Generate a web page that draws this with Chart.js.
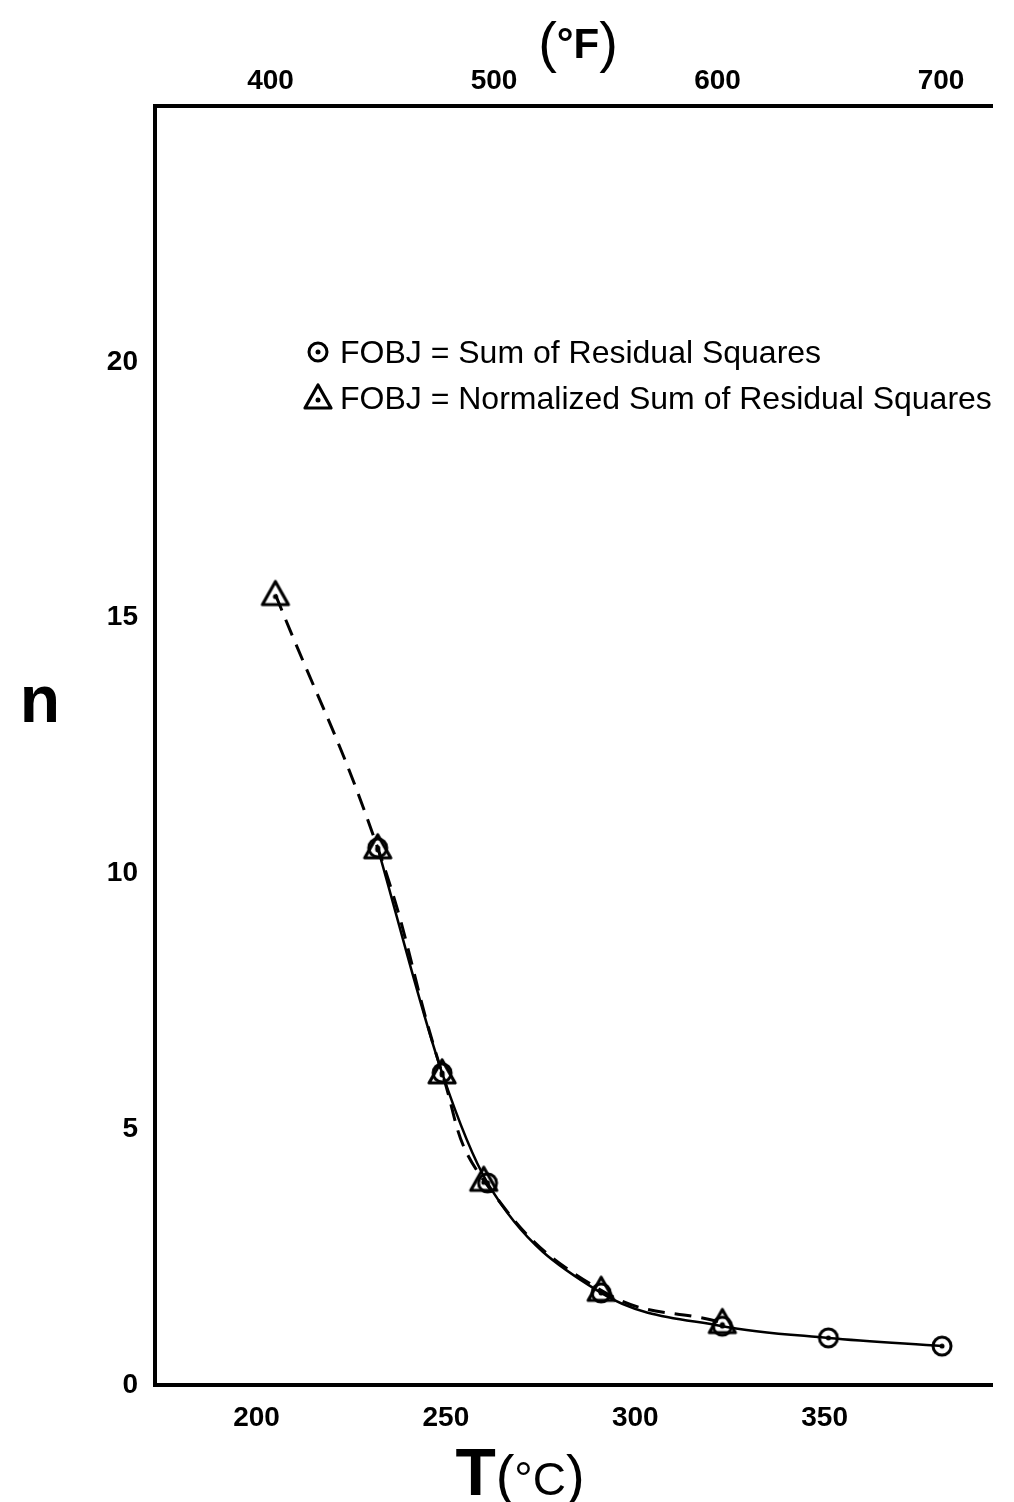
<!DOCTYPE html>
<html>
<head>
<meta charset="utf-8">
<title>n vs T</title>
<script src="https://cdn.jsdelivr.net/npm/chart.js@4.4.1/dist/chart.umd.min.js"></script>
<style>
  html, body { margin: 0; padding: 0; background: #fff; }
  #chart { display: block; }
</style>
</head>
<body>
<canvas id="chart" width="1014" height="1502"></canvas>
<script>
// FOBJ = sum of residual squares (circles)
const sumTemps = [232, 249, 261, 291, 323, 351, 381];
const sumN = [10.5, 6.1, 3.95, 1.8, 1.15, 0.92, 0.76];

// FOBJ = normalized sum of residual squares (triangles)
const normTemps = [205, 232, 249, 260, 291, 323];
const normN = [15.45, 10.5, 6.1, 4.0, 1.85, 1.22];

const celsiusTicks = [200, 250, 300, 350];
const fahrenheitTicks = [400, 500, 600, 700];
const nTicks = [0, 5, 10, 15, 20];

const FONT = "'Liberation Sans', Arial, Helvetica, sans-serif";

// small canvases used as point markers (open shape with a dot in the middle)
function makeMarker(kind) {
    const c = document.createElement("canvas");
    c.width = 32;
    c.height = 32;
    const g = c.getContext("2d");
    g.strokeStyle = "#000";
    g.fillStyle = "#000";
    g.lineJoin = "round";
    if (kind === "circle") {
        g.lineWidth = 3;
        g.beginPath();
        g.arc(16, 16, 9, 0, Math.PI * 2);
        g.stroke();
    } else {
        g.lineWidth = 3.2;
        g.beginPath();
        g.moveTo(16, 3);
        g.lineTo(29, 26);
        g.lineTo(3, 26);
        g.closePath();
        g.stroke();
    }
    g.beginPath();
    g.arc(16, kind === "circle" ? 16 : 18, 2.5, 0, Math.PI * 2);
    g.fill();
    return c;
}

const circleMark = makeMarker("circle");
const triangleMark = makeMarker("triangle");

function toPoints(xs, ys) {
    return xs.map((x, i) => ({ x: x, y: ys[i] }));
}

// text runs with mixed fonts, centred on x
function drawRun(ctx, pieces, cx, baseline) {
    let total = 0;
    pieces.forEach((p) => {
        ctx.font = p.font;
        p.w = ctx.measureText(p.text).width;
        total += p.w;
    });
    let x = cx - total / 2;
    ctx.textAlign = "left";
    ctx.textBaseline = "alphabetic";
    pieces.forEach((p) => {
        ctx.font = p.font;
        ctx.fillText(p.text, x, baseline + (p.dy || 0));
        x += p.w;
    });
}

const titlesPlugin = {
    id: "titles",
    afterDraw(chart) {
        const ctx = chart.ctx;
        ctx.save();
        ctx.fillStyle = "#000";

        // y axis title
        ctx.font = "bold 66px " + FONT;
        ctx.textAlign = "center";
        ctx.textBaseline = "alphabetic";
        ctx.fillText("n", 40, 722);

        // bottom axis title
        drawRun(ctx, [
            { text: "T", font: "bold 66px " + FONT },
            { text: "(", font: "300 56px " + FONT, dy: -1 },
            { text: "°C", font: "46px " + FONT },
            { text: ")", font: "300 56px " + FONT, dy: -1 },
        ], 520, 1495);

        // top axis title
        drawRun(ctx, [
            { text: "(", font: "300 56px " + FONT, dy: 3 },
            { text: "°F", font: "bold 42px " + FONT },
            { text: ")", font: "300 56px " + FONT, dy: 3 },
        ], 578, 58);

        // legend
        const rows = [
            { mark: circleMark, y: 352 },
            { mark: triangleMark, y: 398 },
        ];
        ctx.font = "32px " + FONT;
        ctx.textBaseline = "middle";
        ctx.textAlign = "left";
        chart.data.datasets.forEach((ds, i) => {
            const r = rows[i];
            ctx.drawImage(r.mark, 318 - 16, r.y - 16);
            ctx.fillText(ds.label, 340, r.y + 2);
        });
        ctx.restore();
    },
};

function fixSize(w, h) {
    return (scale) => {
        if (w !== null) scale.width = w;
        if (h !== null) scale.height = h;
    };
}

const tickFont = { family: FONT, size: 28, weight: "bold" };

new Chart(document.getElementById("chart"), {
    type: "scatter",
    data: {
        datasets: [
            {
                label: "FOBJ = Sum of Residual Squares",
                data: toPoints(sumTemps, sumN),
                showLine: true,
                borderColor: "#000",
                borderWidth: 2.5,
                cubicInterpolationMode: "monotone",
                pointStyle: circleMark,
                xAxisID: "x",
                yAxisID: "y",
            },
            {
                label: "FOBJ = Normalized Sum of Residual Squares",
                data: toPoints(normTemps, normN),
                showLine: true,
                borderColor: "#000",
                borderWidth: 3,
                borderDash: [17, 10],
                tension: 0.45,
                pointStyle: triangleMark,
                xAxisID: "x",
                yAxisID: "y",
            },
        ],
    },
    options: {
        responsive: false,
        animation: false,
        devicePixelRatio: 1,
        layout: { padding: { left: 0, right: 22, top: 0, bottom: 0 } },
        plugins: {
            legend: { display: false },
            tooltip: { enabled: false },
        },
        scales: {
            x: {
                type: "linear",
                position: "bottom",
                min: 173.2,
                max: 394.2,
                afterBuildTicks: (s) => { s.ticks = celsiusTicks.map((v) => ({ value: v })); },
                afterFit: fixSize(null, 117),
                grid: { display: false, drawTicks: false },
                border: { display: true, color: "#000", width: 4 },
                ticks: { color: "#000", padding: 16, maxRotation: 0, font: tickFont },
            },
            xTop: {
                type: "linear",
                position: "top",
                min: 348.3,
                max: 722.8,
                afterBuildTicks: (s) => { s.ticks = fahrenheitTicks.map((v) => ({ value: v })); },
                afterFit: fixSize(null, 106),
                grid: { display: false, drawTicks: false },
                border: { display: true, color: "#000", width: 4 },
                ticks: { color: "#000", padding: 8, maxRotation: 0, font: tickFont },
            },
            y: {
                type: "linear",
                position: "left",
                min: 0,
                max: 25,
                afterBuildTicks: (s) => { s.ticks = nTicks.map((v) => ({ value: v })); },
                afterFit: fixSize(155, null),
                grid: { display: false, drawTicks: false },
                border: { display: true, color: "#000", width: 4 },
                ticks: { color: "#000", padding: 17, font: tickFont },
            },
        },
    },
    plugins: [titlesPlugin],
});
</script>
</body>
</html>
